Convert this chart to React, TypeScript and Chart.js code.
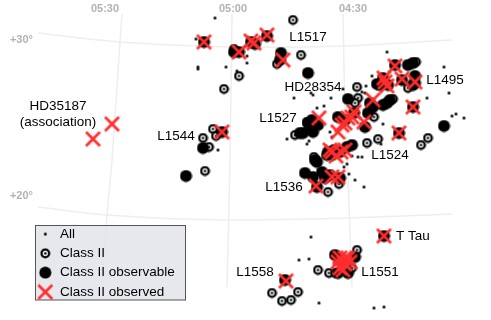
import React, { useEffect, useRef } from "react";
import { Chart, registerables } from "chart.js";

Chart.register(...registerables);

type P = [number, number];

const raLabels = ["05:30", "05:00", "04:30"];
const raTicks = [105, 233, 353];
const decLabels = ["+30°", "+20°"];
const decTicks = [40, 196];

const gridDec30: P[] = [[38, 33], [120, 42], [233, 47], [344, 46], [452, 40]];
const gridDec20: P[] = [[38, 207], [107, 215], [228, 220], [350, 218], [452, 214]];
const gridRa530: P[] = [[122, 13], [120, 42], [112, 160], [107, 215], [102, 287]];
const gridRa500: P[] = [[232, 13], [230, 160], [227, 287]];
const gridRa430: P[] = [[343, 13], [345, 113], [348, 177], [352, 287]];

const allStars: P[] = [
  [215, 18], [196, 39], [198, 67], [198, 69], [226, 67], [237, 71], [218, 150], [387, 52], [444, 67], [372, 76],
  [366, 86], [343, 89], [311, 93], [313, 95], [331, 98], [294, 98], [449, 93], [427, 98], [365, 93], [362, 92],
  [317, 108], [324, 106], [452, 116], [456, 114], [464, 118], [383, 124], [287, 139], [330, 132], [332, 137],
  [309, 141], [307, 144], [381, 144], [352, 156], [358, 157], [362, 157], [247, 56], [247, 63], [349, 174],
  [355, 180], [364, 187], [311, 237], [299, 260], [309, 259], [319, 303], [374, 308], [384, 307], [347, 164], [344, 167],
];

const classII: P[] = [
  [234, 49], [239, 76], [224, 89], [213, 129], [216, 136], [203, 138], [209, 147], [205, 171], [293, 20], [277, 64],
  [301, 55], [357, 87], [416, 62], [358, 98], [393, 99], [408, 88], [295, 135], [307, 122], [374, 117], [367, 143],
  [378, 139], [421, 145], [428, 138], [314, 157], [355, 103], [328, 192], [339, 184], [357, 250], [318, 270], [329, 273],
  [335, 273], [352, 268], [272, 293], [298, 292], [282, 301], [291, 300],
];

const observable: P[] = [
  [203, 148], [186, 176], [204, 42], [239, 52], [234, 52], [222, 132], [251, 42], [255, 44], [267, 36], [281, 53], [280, 60],
  [308, 73], [444, 126], [348, 99], [408, 65], [413, 63], [415, 76], [395, 65], [383, 78], [380, 85], [388, 85], [377, 84],
  [402, 80], [415, 83], [413, 85], [390, 100], [383, 105], [370, 103], [373, 107], [387, 103], [368, 113], [365, 127],
  [338, 117], [345, 120], [312, 120], [313, 132], [303, 133], [308, 123], [310, 128], [318, 125], [300, 133], [352, 145],
  [347, 147], [334, 150], [340, 152], [328, 152], [327, 155], [413, 107], [399, 133], [354, 113], [305, 173], [313, 177],
  [322, 172], [330, 175], [332, 155], [315, 160], [317, 162], [317, 187], [325, 178], [340, 178], [285, 280], [384, 236],
  [340, 260], [355, 257], [348, 273], [338, 273], [345, 267], [335, 255],
];

const observed: P[] = [
  [204, 42], [239, 52], [222, 132], [112, 124], [93, 139], [251, 41], [254, 43], [267, 35], [283, 60], [395, 66],
  [384, 78], [385, 82], [387, 86], [402, 79], [415, 82], [373, 100], [413, 107], [399, 133], [319, 118], [354, 112],
  [352, 117], [348, 118], [345, 123], [342, 125], [364, 122], [338, 132], [330, 150], [332, 152], [341, 152], [345, 150],
  [336, 156], [316, 186], [332, 177], [338, 177], [384, 236], [286, 281], [340, 258], [345, 258], [344, 263], [348, 258],
  [338, 262], [350, 262], [340, 268], [343, 270], [345, 264],
];

const legendNames = ["All", "Class II", "Class II observable", "Class II observed"];

const regionNames = ["L1517", "L1495", "HD28354", "L1527", "L1544", "L1524", "L1536", "T Tau", "L1558", "L1551", "HD35187", "(association)"];
const regionSpots: P[] = [[308, 37], [445, 80], [313, 87], [278, 118], [176, 136], [390, 155], [284, 187], [413, 236], [255, 272], [380, 272], [58, 106], [58, 122]];

const toXY = (pts: P[]) => pts.map(([x, y]) => ({ x, y }));

function sprite(size: number, paint: (c: CanvasRenderingContext2D, m: number) => void) {
  const cv = document.createElement("canvas");
  cv.width = size;
  cv.height = size;
  const c = cv.getContext("2d") as CanvasRenderingContext2D;
  paint(c, size / 2);
  return cv;
}

export default function App() {
  const ref = useRef<HTMLCanvasElement | null>(null);

  useEffect(() => {
    if (!ref.current) return;
    const RED = "#ff2e2e";
    const dot = sprite(5, (c, m) => {
      c.fillStyle = "#000";
      c.beginPath();
      c.arc(m, m, 1.5, 0, Math.PI * 2);
      c.fill();
    });
    const ring = sprite(11, (c, m) => {
      c.beginPath();
      c.arc(m, m, 3.8, 0, Math.PI * 2);
      c.fillStyle = "#fff";
      c.fill();
      c.lineWidth = 2.3;
      c.strokeStyle = "#000";
      c.stroke();
      c.beginPath();
      c.arc(m, m, 1.3, 0, Math.PI * 2);
      c.fillStyle = "#000";
      c.fill();
    });
    const disc = sprite(13, (c, m) => {
      c.fillStyle = "#000";
      c.beginPath();
      c.arc(m, m, 6, 0, Math.PI * 2);
      c.fill();
    });
    const cross = sprite(17, (c, m) => {
      c.strokeStyle = RED;
      c.lineWidth = 2.8;
      c.beginPath();
      c.moveTo(m - 7, m - 7);
      c.lineTo(m + 7, m + 7);
      c.moveTo(m + 7, m - 7);
      c.lineTo(m - 7, m + 7);
      c.stroke();
    });
    const sprites = [dot, ring, disc, cross];

    const gridSet = (pts: P[]) => ({
      label: "grid",
      data: toXY(pts),
      showLine: true,
      tension: 0.3,
      borderColor: "#eeeeee",
      borderWidth: 1.5,
      pointRadius: 0,
    });

    const chart = new Chart(ref.current, {
      type: "scatter",
      data: {
        datasets: [
          { label: legendNames[3], data: toXY(observed), pointStyle: cross, pointRadius: 3 },
          { label: legendNames[2], data: toXY(observable), pointStyle: disc, pointRadius: 3 },
          { label: legendNames[1], data: toXY(classII), pointStyle: ring, pointRadius: 3 },
          { label: legendNames[0], data: toXY(allStars), pointStyle: dot, pointRadius: 3 },
          gridSet(gridDec30),
          gridSet(gridDec20),
          gridSet(gridRa530),
          gridSet(gridRa500),
          gridSet(gridRa430),
        ],
      } as any,
      options: {
        animation: false,
        responsive: false,
        events: [],
        layout: { padding: 0 },
        scales: {
          x: {
            type: "linear",
            position: "top",
            min: 37,
            max: 491,
            afterBuildTicks: (s: any) => {
              s.ticks = raTicks.map((value) => ({ value }));
            },
            afterFit: (s: any) => {
              s.height = 14;
            },
            grid: { display: false, drawTicks: false },
            border: { display: false },
            ticks: {
              autoSkip: false,
              maxRotation: 0,
              padding: 0,
              color: "#b2b2b2",
              font: { family: "Liberation Sans", size: 11, weight: "bold" },
              callback: (_v: any, i: number) => raLabels[i],
            },
          },
          y: {
            type: "linear",
            reverse: true,
            min: 14,
            max: 320,
            afterBuildTicks: (s: any) => {
              s.ticks = decTicks.map((value) => ({ value }));
            },
            afterFit: (s: any) => {
              s.width = 37;
            },
            grid: { display: false, drawTicks: false },
            border: { display: false },
            ticks: {
              autoSkip: false,
              padding: 4,
              color: "#b2b2b2",
              font: { family: "Liberation Sans", size: 11, weight: "bold" },
              callback: (_v: any, i: number) => decLabels[i],
            },
          },
        },
        plugins: {
          tooltip: { enabled: false },
          title: { display: false },
          legend: {
            display: true,
            position: "chartArea",
            align: "start",
            labels: {
              usePointStyle: true,
              pointStyleWidth: 16,
              padding: 5.8,
              color: "#000",
              font: { family: "Liberation Sans", size: 13.5 },
              generateLabels: () =>
                legendNames.map((text, i) => ({
                  text,
                  pointStyle: sprites[i],
                  fontColor: "#000",
                  lineWidth: 0,
                  hidden: false,
                  datasetIndex: 3 - i,
                })),
            },
          },
        } as any,
      },
      plugins: [
        {
          id: "placeLegend",
          beforeLayout: (c: any) => {
            const l = c.legend;
            l._layers = () => [
              {
                z: 1,
                draw: () => {
                  const ctx = c.ctx;
                  ctx.save();
                  ctx.fillStyle = "rgba(226,228,234,0.85)";
                  ctx.strokeStyle = "#555";
                  ctx.lineWidth = 1;
                  ctx.fillRect(35.5, 225.5, 150, 74.5);
                  ctx.strokeRect(35.5, 225.5, 150, 74.5);
                  ctx.restore();
                  l.draw();
                },
              },
            ];
          },
          afterLayout: (c: any) => {
            const l = c.legend;
            l.left = 31.5;
            l.right = 200;
            l.top = 221.5;
            l.bottom = 320;
            const { x, y } = c.scales;
            x.left = 37;
            x.right = 491;
            x.width = 454;
            x.top = 0;
            x.bottom = 16;
            x.configure();
            y.left = 0;
            y.right = 37;
            y.top = 14;
            y.bottom = 320;
            y.height = 306;
            y.configure();
            c.chartArea = { left: 37, top: 14, right: 491, bottom: 320, width: 454, height: 306 };
          },
          afterDatasetsDraw: (c: any) => {
            const ctx = c.ctx;
            ctx.save();
            ctx.fillStyle = "#000";
            ctx.font = '13.5px "Liberation Sans"';
            ctx.textAlign = "center";
            ctx.textBaseline = "middle";
            regionNames.forEach((name, i) => {
              const [x, y] = regionSpots[i];
              ctx.fillText(name, c.scales.x.getPixelForValue(x), c.scales.y.getPixelForValue(y));
            });
            ctx.restore();
          },
        },
      ],
    } as any);
    return () => chart.destroy();
  }, []);

  return (
    <canvas
      ref={ref}
      width={491}
      height={320}
      style={{ position: "absolute", left: 0, top: 0, display: "block", width: 491, height: 320, filter: "blur(0.35px)" }}
    />
  );
}
